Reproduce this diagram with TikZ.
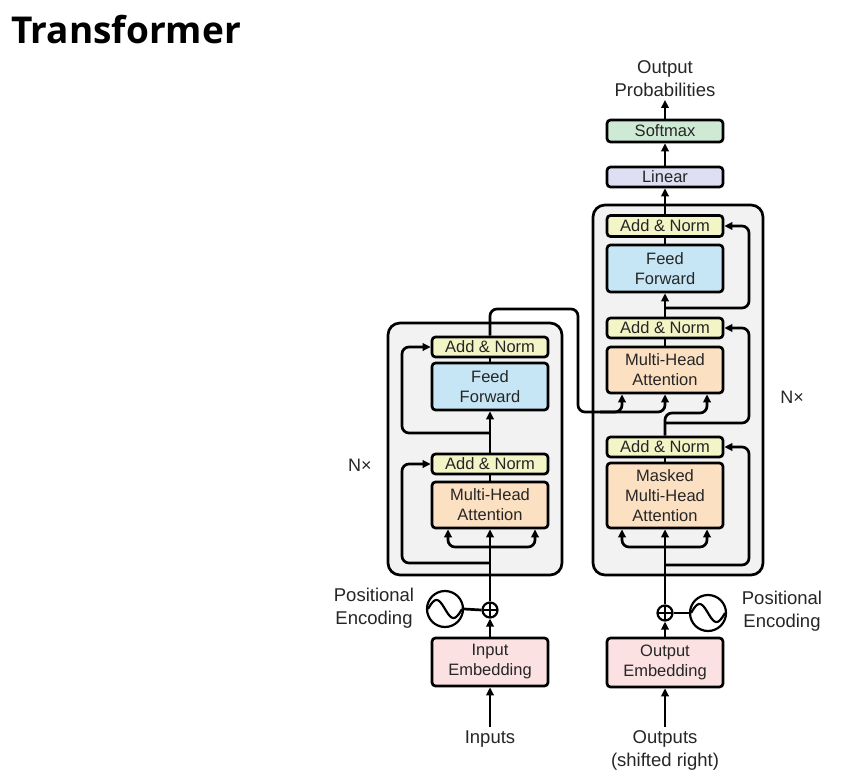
\documentclass[tikz,border=0pt]{standalone}
\usepackage{fontspec}
\setmainfont{Liberation Sans}
\newfontfamily\titlefont{Open Sans}
\usetikzlibrary{arrows.meta}
\definecolor{cBG}{HTML}{F2F2F2}
\definecolor{cAN}{HTML}{F3F5C6}
\definecolor{cFF}{HTML}{C6E6F5}
\definecolor{cMHA}{HTML}{FCE0C2}
\definecolor{cEMB}{HTML}{FBE1E1}
\definecolor{cSM}{HTML}{CFEAD4}
\definecolor{cLIN}{HTML}{DEDFF2}
\definecolor{cTXT}{HTML}{262626}
\tikzset{
 blk/.style={draw, line width=2.7pt, rounded corners=3.5pt, minimum width=116pt, inner sep=0pt, align=center, font=\fontsize{16.5}{20}\selectfont, text=cTXT},
 anbox/.style={blk, fill=cAN, minimum height=20pt},
 ffbox/.style={blk, fill=cFF, minimum height=47pt},
 mhabox/.style={blk, fill=cMHA, minimum height=46pt},
 embbox/.style={blk, fill=cEMB, minimum height=48pt},
 arr/.style={line width=2.7pt, -{Triangle[length=8pt,width=7.5pt]}, rounded corners=7pt},
 ln/.style={line width=2.7pt, rounded corners=7pt},
 outerbox/.style={draw, line width=2.7pt, fill=cBG, rounded corners=12pt, inner sep=0pt},
 lbl/.style={font=\fontsize{18.5}{23}\selectfont, align=center, text=cTXT},
 ring/.style={draw, circle, line width=2.2pt, inner sep=0pt, fill=white},
}
\begin{document}
\begin{tikzpicture}[x=1pt,y=-1pt]
\useasboundingbox (0,0) rectangle (851,778);
\fill[white] (0,0) rectangle (851,778);
% title
\node[anchor=base west, inner sep=0pt, font=\titlefont\bfseries\fontsize{37}{40}\selectfont] (title) at (11,44) {Transformer};

% outer boxes
\node[outerbox, minimum width=174pt, minimum height=252pt] (enc) at (475,449) {};
\node[outerbox, minimum width=170pt, minimum height=370pt] (dec) at (678,390) {};

% encoder blocks
\node[anbox] (eAN2) at (490,347) {Add \& Norm};
\node[ffbox] (eFF) at (490,386.5) {Feed\\Forward};
\node[anbox] (eAN1) at (490,464) {Add \& Norm};
\node[mhabox] (eMHA) at (490,505) {Multi-Head\\Attention};
\node[embbox] (eIE) at (490,662) {Input\\Embedding};

% decoder blocks
\node[anbox, minimum height=21pt] (dAN3) at (665,226) {Add \& Norm};
\node[ffbox] (dFF) at (665,268.5) {Feed\\Forward};
\node[anbox] (dAN2) at (665,328) {Add \& Norm};
\node[mhabox] (dMHA) at (665,370) {Multi-Head\\Attention};
\node[anbox] (dAN1) at (665,447) {Add \& Norm};
\node[mhabox, minimum height=65pt] (dMMHA) at (665,495.5) {Masked\\Multi-Head\\Attention};
\node[embbox, minimum height=49pt] (dOE) at (665,662.5) {Output\\Embedding};
\node[blk, fill=cLIN, minimum height=20pt] (lin) at (665,177) {Linear};
\node[blk, fill=cSM, minimum height=22pt] (soft) at (665,131) {Softmax};

% positional encodings
\node[ring, minimum size=36pt] (sinE) at (445,609) {};
\draw[line width=2.2pt] plot[domain=-1:1, smooth, samples=40] ({445+17*\x},{609+9*sin(180*\x)});
\node[ring, minimum size=15pt] (plusE) at (490,610) {};
\draw[line width=1.9pt] (482.5,610) -- (497.5,610) (490,602.5) -- (490,617.5);

\node[ring, minimum size=36pt] (sinD) at (708,613) {};
\draw[line width=2.2pt] plot[domain=-1:1, smooth, samples=40] ({708+17*\x},{613+9*sin(180*\x)});
\node[ring, minimum size=15pt] (plusD) at (665,613) {};
\draw[line width=1.9pt] (657.5,613) -- (672.5,613) (665,605.5) -- (665,620.5);

% labels
\node[lbl, anchor=north] (inputs) at (490,727) {Inputs};
\node[lbl, anchor=north] (outputs) at (665,727) {Outputs\\(shifted right)};
\node[lbl, anchor=south] (outprob) at (665,100) {Output\\Probabilities};
\node[lbl] (peE) at (374,608) {Positional\\Encoding};
\node[lbl] (peD) at (782,611) {Positional\\Encoding};
\node[lbl, font=\fontsize{18}{20}\selectfont] (nE) at (360,465) {N×};
\node[lbl, font=\fontsize{18}{20}\selectfont] (nD) at (792,397) {N×};

% encoder connections
\draw[arr] (inputs.north) -- (eIE.south);
\draw[arr] (eIE.north) -- (plusE.south);
\draw[ln] (sinE.east) -- (plusE.west);
\draw[arr] (plusE.north) -- (eMHA.south);
\draw[arr] (490,547) -| ([xshift=-42pt]eMHA.south);
\draw[arr] (490,547) -| ([xshift=45pt]eMHA.south);
\draw[arr] (490,563) -- (402,563) -- (402,464) -- (eAN1.west);
\draw[ln] (eMHA.north) -- (eAN1.south);
\draw[arr] (eAN1.north) -- (eFF.south);
\draw[arr] (490,433) -- (402,433) -- (402,347) -- (eAN2.west);
\draw[ln] (eFF.north) -- (eAN2.south);
\draw[arr] (eAN2.north) -- (490,309) -- (578,309) -- (578,412) -- (622,412) -- (dMHA.south -| 622,0);
\draw[arr] (600,412) -- (665,412) -- (dMHA.south);

% decoder connections
\draw[arr] (outputs.north) -- (dOE.south);
\draw[arr] (dOE.north) -- (plusD.south);
\draw[ln] (sinD.west) -- (plusD.east);
\draw[arr] (plusD.north) -- (dMMHA.south);
\draw[arr] (665,547) -| ([xshift=-43pt]dMMHA.south);
\draw[arr] (665,547) -| ([xshift=42pt]dMMHA.south);
\draw[arr] (665,565) -- (749,565) -- (749,447) -- (dAN1.east);
\draw[ln] (dMMHA.north) -- (dAN1.south);
\draw[arr] (dAN1.north) -- (665,413) -- (707,413) -- (dMHA.south -| 707,0);
\draw[arr] (665,423) -- (749,423) -- (749,328) -- (dAN2.east);
\draw[ln] (dMHA.north) -- (dAN2.south);
\draw[arr] (dAN2.north) -- (dFF.south);
\draw[arr] (665,308) -- (749,308) -- (749,226) -- (dAN3.east);
\draw[ln] (dFF.north) -- (dAN3.south);
\draw[arr] (dAN3.north) -- (lin.south);
\draw[arr] (lin.north) -- (soft.south);
\draw[arr] (soft.north) -- (outprob.south);
\end{tikzpicture}
\end{document}
